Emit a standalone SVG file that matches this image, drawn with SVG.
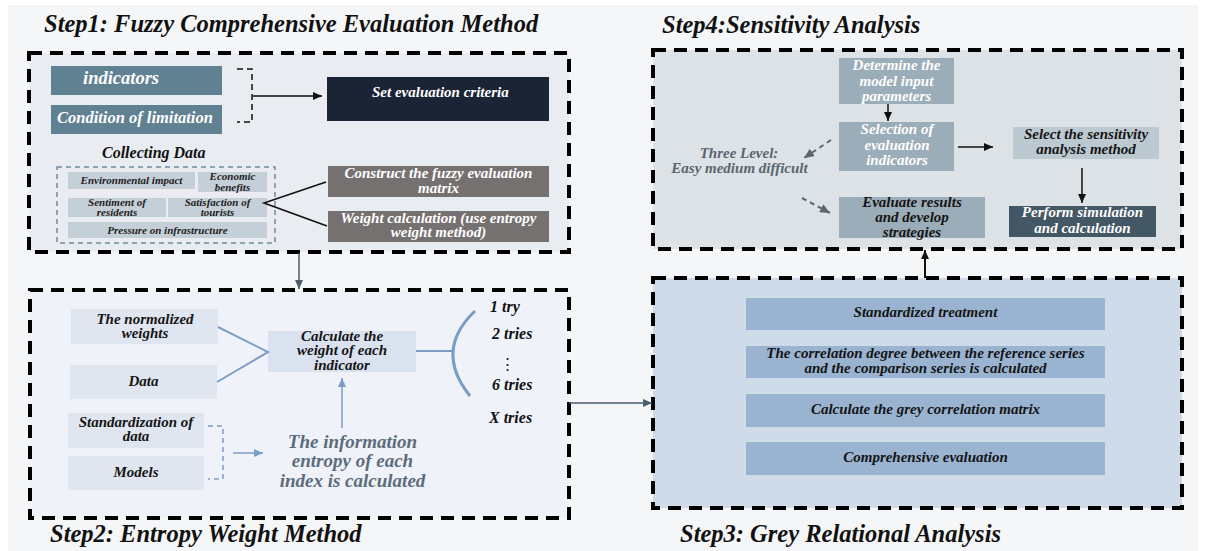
<svg xmlns="http://www.w3.org/2000/svg" width="1209" height="551" viewBox="0 0 1209 551">
<style>
text{font-family:"Liberation Serif","Times New Roman",serif;font-weight:bold;font-style:italic}
.title{font-size:24.5px;fill:#111}
.frame{stroke:#000;stroke-width:4;stroke-dasharray:13 8}
.t15{font-size:15px}
.t11{font-size:11px;fill:#222}
.w{fill:#fff}
.k{fill:#141414}
.mid{text-anchor:middle}
.cell{fill:#c4cfd8}
.lb{fill:#dfe6f0}
.gb{fill:#99b3d1}
.s4{fill:#9badb8}
.blue{stroke:#7a9cc6;fill:none}
</style>
<defs>
<marker id="ak" markerWidth="9" markerHeight="8" refX="9" refY="4" orient="auto" markerUnits="userSpaceOnUse"><path d="M0,0 L9,4 L0,8 z" fill="#111"/></marker>
<marker id="ab" markerWidth="9" markerHeight="8" refX="9" refY="4" orient="auto" markerUnits="userSpaceOnUse"><path d="M0,0 L9,4 L0,8 z" fill="#7a9cc6"/></marker>
<marker id="as" markerWidth="9" markerHeight="8" refX="9" refY="4" orient="auto" markerUnits="userSpaceOnUse"><path d="M0,0 L9,4 L0,8 z" fill="#4b5c6e"/></marker>
<marker id="ag" markerWidth="10" markerHeight="9" refX="10" refY="4.5" orient="auto" markerUnits="userSpaceOnUse"><path d="M0,0 L10,4.5 L0,9 z" fill="#5a6670"/></marker>
</defs>
<rect x="8" y="5" width="1190" height="546" fill="#f5f6f8"/>

<!-- Titles -->
<text class="title" x="44" y="32">Step1: Fuzzy Comprehensive Evaluation Method</text>
<text class="title" x="662" y="33">Step4:Sensitivity Analysis</text>
<text class="title" x="50" y="542">Step2: Entropy Weight Method</text>
<text class="title" x="680" y="542">Step3: Grey Relational Analysis</text>

<!-- Step 1 -->
<g id="step1">
<rect class="frame" x="29" y="53" width="540" height="199" fill="#e9ecf1"/>
<g id="indicators"><rect x="51" y="66" width="171" height="29" fill="#5f8191"/><text class="w" x="83" y="84" font-size="18.5">indicators</text></g>
<g id="condition"><rect x="51" y="105" width="171" height="29" fill="#5f8191"/><text class="w" x="57" y="123" font-size="16.5">Condition of limitation</text></g>
<g id="criteria"><rect x="327" y="77" width="222" height="44" fill="#1b2434"/><text class="w t15" x="372" y="97">Set evaluation criteria</text></g>
<g id="collecting">
<text x="102" y="158" font-size="16" fill="#111">Collecting Data</text>
<rect x="57" y="167" width="218" height="76" fill="none" stroke="#6f8aa0" stroke-width="1.5" stroke-dasharray="5 4"/>
<rect class="cell" x="68" y="172" width="127" height="17"/><text class="t11 mid" x="131.5" y="184">Environmental impact</text>
<rect class="cell" x="198" y="172" width="69" height="20"/><text class="t11 mid" x="232.5" y="180">Economic</text><text class="t11 mid" x="232.5" y="191">benefits</text>
<rect class="cell" x="68" y="198" width="98" height="19"/><text class="t11 mid" x="117" y="206">Sentiment of</text><text class="t11 mid" x="117" y="216">residents</text>
<rect class="cell" x="168" y="198" width="99" height="19"/><text class="t11 mid" x="217.5" y="206">Satisfaction of</text><text class="t11 mid" x="217.5" y="216">tourists</text>
<rect class="cell" x="68" y="222" width="199" height="16"/><text class="t11 mid" x="167.5" y="234" font-size="11.5">Pressure on infrastructure</text>
</g>
<g id="fuzzy"><rect x="328" y="166" width="221" height="31" fill="#767171"/><text class="w t15 mid" x="438.5" y="178">Construct the fuzzy evaluation</text><text class="w t15 mid" x="438.5" y="193">matrix</text></g>
<g id="weightcalc"><rect x="328" y="211" width="221" height="31" fill="#767171"/><text class="w t15 mid" x="438.5" y="223">Weight calculation (use entropy</text><text class="w t15 mid" x="438.5" y="237">weight method)</text></g>
</g>

<!-- Step 2 -->
<g id="step2">
<rect class="frame" x="30" y="290" width="539" height="228" fill="#eff2f8"/>
<g id="normalized"><rect class="lb" x="71" y="309" width="147" height="35"/><text class="k t15 mid" x="145" y="324">The normalized</text><text class="k t15 mid" x="145" y="338">weights</text></g>
<g id="data"><rect class="lb" x="70" y="365" width="147" height="34"/><text class="k t15 mid" x="143.5" y="386">Data</text></g>
<g id="standardization"><rect class="lb" x="68" y="413" width="136" height="35"/><text class="k t15 mid" x="136" y="427">Standardization of</text><text class="k t15 mid" x="136" y="441">data</text></g>
<g id="models"><rect class="lb" x="68" y="456" width="136" height="34"/><text class="k t15 mid" x="136" y="477">Models</text></g>
<g id="calcweight"><rect x="268" y="331" width="148" height="41" fill="#dae2ef"/><text class="k t15 mid" x="342" y="341">Calculate the</text><text class="k t15 mid" x="342" y="355">weight of each</text><text class="k t15 mid" x="342" y="370">indicator</text></g>
<g id="entropy"><text class="mid" x="352.5" y="448" font-size="19" fill="#5c6c7c">The information</text><text class="mid" x="352.5" y="467" font-size="19" fill="#5c6c7c">entropy of each</text><text class="mid" x="352.5" y="487" font-size="19" fill="#5c6c7c">index is calculated</text></g>
<g id="tries">
<text x="490" y="312" font-size="16" fill="#111">1 try</text>
<text x="492" y="339" font-size="16" fill="#111">2 tries</text>
<text x="507" y="369" font-size="15" fill="#111" text-anchor="middle" style="font-family:'DejaVu Serif','Liberation Serif',serif;font-style:normal;font-weight:normal">⋮</text>
<text x="492" y="390" font-size="16" fill="#111">6 tries</text>
<text x="489" y="423" font-size="16" fill="#111">X tries</text>
</g>
</g>

<!-- Step 3 -->
<g id="step3">
<rect class="frame" x="653" y="278" width="529" height="230" fill="#cfdbe9"/>
<g id="std-treat"><rect class="gb" x="746" y="298" width="359" height="32"/><text class="k t15 mid" x="925.5" y="317">Standardized treatment</text></g>
<g id="corr-degree"><rect class="gb" x="746" y="346" width="359" height="32"/><text class="k t15 mid" x="925.5" y="358">The correlation degree between the reference series</text><text class="k t15 mid" x="925.5" y="373">and the comparison series is calculated</text></g>
<g id="grey-matrix"><rect class="gb" x="746" y="394" width="359" height="33"/><text class="k t15 mid" x="925.5" y="414">Calculate the grey correlation matrix</text></g>
<g id="comp-eval"><rect class="gb" x="746" y="442" width="359" height="33"/><text class="k t15 mid" x="925.5" y="462">Comprehensive evaluation</text></g>
</g>

<!-- Step 4 -->
<g id="step4">
<rect class="frame" x="653" y="50" width="529" height="199" fill="#dce2e6"/>
<g id="determine"><rect class="s4" x="839" y="58" width="115" height="46"/><text class="w t15 mid" x="896.5" y="70">Determine the</text><text class="w t15 mid" x="896.5" y="86">model input</text><text class="w t15 mid" x="896.5" y="101">parameters</text></g>
<g id="selection"><rect class="s4" x="839" y="122" width="115" height="49"/><text class="w t15 mid" x="897" y="134">Selection of</text><text class="w t15 mid" x="897" y="150">evaluation</text><text class="w t15 mid" x="897" y="165">indicators</text></g>
<g id="threelevel"><text class="t15 mid" x="739" y="158" fill="#5a6570">Three Level:</text><text class="t15 mid" x="739.5" y="173" fill="#5a6570">Easy medium difficult</text></g>
<g id="evaluate"><rect class="s4" x="839" y="197" width="146" height="41"/><text class="k t15 mid" x="912" y="207">Evaluate results</text><text class="k t15 mid" x="912" y="222">and develop</text><text class="k t15 mid" x="912" y="237">strategies</text></g>
<g id="select-method"><rect x="1013" y="127" width="146" height="32" fill="#bdc9d1"/><text class="k t15 mid" x="1086" y="139">Select the sensitivity</text><text class="k t15 mid" x="1086" y="154">analysis method</text></g>
<g id="perform"><rect x="1009" y="206" width="147" height="31" fill="#445764"/><text class="w t15 mid" x="1082.5" y="217">Perform simulation</text><text class="w t15 mid" x="1082.5" y="233">and calculation</text></g>
</g>

<!-- Connectors -->
<g id="connectors" fill="none">
<path d="M237,69 H252 V122 H237" stroke="#111" stroke-width="1.5" stroke-dasharray="6 4"/>
<line x1="253" y1="96" x2="322" y2="96" stroke="#111" stroke-width="1.5" marker-end="url(#ak)"/>
<path d="M326,182 L264,203 L327,226" stroke="#111" stroke-width="1.6"/>
<line x1="299" y1="253" x2="299" y2="289" stroke="#4b5c6e" stroke-width="1.5" marker-end="url(#as)"/>
<path class="blue" d="M218,327 L268,352 L217,382" stroke-width="2"/>
<line class="blue" x1="416" y1="351" x2="454" y2="351" stroke-width="2"/>
<path class="blue" d="M475,311 Q433.5,350.5 470,396" stroke-width="3"/>
<line class="blue" x1="342" y1="428" x2="342" y2="378" stroke-width="1.5" marker-end="url(#ab)"/>
<path class="blue" d="M208,426 H223 V479 H208" stroke-width="1.5" stroke-dasharray="5 4"/>
<line class="blue" x1="233" y1="453" x2="263" y2="453" stroke-width="1.5" marker-end="url(#ab)"/>
<line x1="569" y1="403" x2="652" y2="403" stroke="#4b5c6e" stroke-width="1.5" marker-end="url(#as)"/>
<line x1="925" y1="278" x2="925" y2="250" stroke="#111" stroke-width="2" marker-end="url(#ak)"/>
<line x1="888" y1="104" x2="888" y2="121" stroke="#111" stroke-width="1.5" marker-end="url(#ak)"/>
<line x1="831" y1="140" x2="804" y2="158" stroke="#5a6670" stroke-width="2" stroke-dasharray="5 4" marker-end="url(#ag)"/>
<line x1="802" y1="198" x2="830" y2="213" stroke="#5a6670" stroke-width="2" stroke-dasharray="5 4" marker-end="url(#ag)"/>
<line x1="958" y1="147" x2="993" y2="147" stroke="#111" stroke-width="1.5" marker-end="url(#ak)"/>
<line x1="1082" y1="168" x2="1082" y2="203" stroke="#111" stroke-width="1.5" marker-end="url(#ak)"/>
</g>
</svg>
